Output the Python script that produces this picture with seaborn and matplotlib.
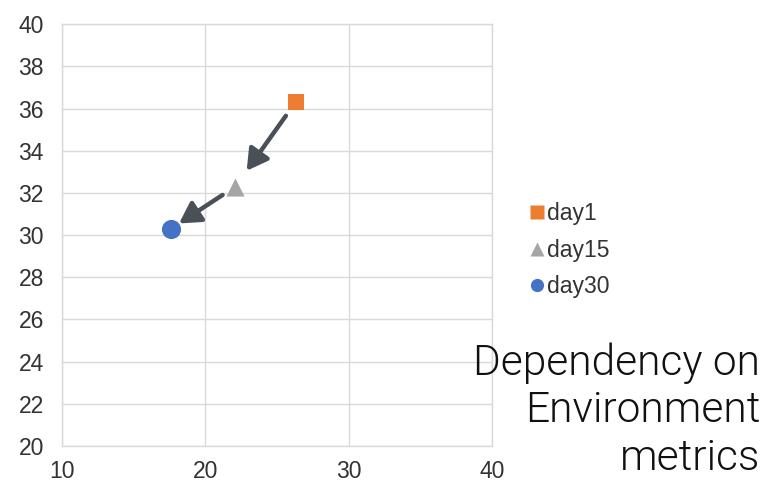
import matplotlib
matplotlib.use("Agg")
import matplotlib.pyplot as plt
import seaborn as sns
import pandas as pd
from matplotlib.lines import Line2D
from matplotlib.transforms import offset_copy

days = ["day1", "day15", "day30"]
x_vals = [26.3, 22.1, 17.6]
y_vals = [36.3, 32.3, 30.3]
colors = ["#ED7D31", "#A5A5A5", "#4472C4"]
markers = ["s", "^", "o"]
sizes = [140, 170, 190]
x_ticks = [10, 20, 30, 40]
y_ticks = list(range(20, 41, 2))
title_lines = ["Dependency on", "Environment", "metrics"]

df = pd.DataFrame({"day": days, "x": x_vals, "y": y_vals})

sns.set_theme(style="white")
plt.rcParams["font.family"] = ["Liberation Sans", "DejaVu Sans"]

fig = plt.figure(figsize=(7.65, 4.84), dpi=100)
ax = fig.add_axes([0.081, 0.0785, 0.562, 0.8715])

# arrows between consecutive days
shrinks = [(12, 14), (11, 7)]
for i in range(len(days) - 1):
    ax.annotate("", xy=(x_vals[i + 1], y_vals[i + 1]), xytext=(x_vals[i], y_vals[i]),
                arrowprops=dict(arrowstyle="-|>,head_length=0.7,head_width=0.4",
                                color="#4A5058", lw=3.2, mutation_scale=18,
                                shrinkA=shrinks[i][0], shrinkB=shrinks[i][1]),
                zorder=2)

for i, d in enumerate(days):
    sns.scatterplot(data=df[df["day"] == d], x="x", y="y", marker=markers[i],
                    color=colors[i], s=sizes[i], linewidth=0, ax=ax, zorder=3,
                    legend=False)

ax.set_xlim(10, 40)
ax.set_ylim(20, 40)
ax.set_xticks(x_ticks)
ax.set_yticks(y_ticks)
ax.set_xlabel("")
ax.set_ylabel("")
ax.grid(True, color="#D9D9D9", lw=1)
for s in ax.spines.values():
    s.set_color("#D9D9D9")
    s.set_linewidth(1)
ax.tick_params(axis="both", length=0, labelsize=16.5, labelcolor="#333333")
ax.tick_params(axis="x", pad=10)
ax.tick_params(axis="y", pad=13)

handles = [Line2D([0], [0], marker=markers[i], color="none", markerfacecolor=colors[i],
                  markeredgecolor="none", markersize=9.5, label=days[i]) for i in range(3)]
fig.legend(handles=handles, loc="center left", bbox_to_anchor=(0.691, 0.483),
           frameon=False, fontsize=16.5, handletextpad=0.1, labelspacing=0.6,
           handlelength=0.7, borderaxespad=0, borderpad=0, labelcolor="#333333")

# title, one right-aligned line per text, 47.5 px apart
n = len(title_lines)
for k, line in enumerate(title_lines):
    tr = offset_copy(fig.transFigure, fig=fig, x=0, y=(n - 1 - k) * 47.5, units="dots")
    fig.text(0.994, 0.029, line, ha="right", va="baseline", fontsize=30.5,
             fontweight=300, color="#111111", transform=tr,
             family=["Roboto", "DejaVu Sans"])

fig.savefig("out.png", dpi=100)
